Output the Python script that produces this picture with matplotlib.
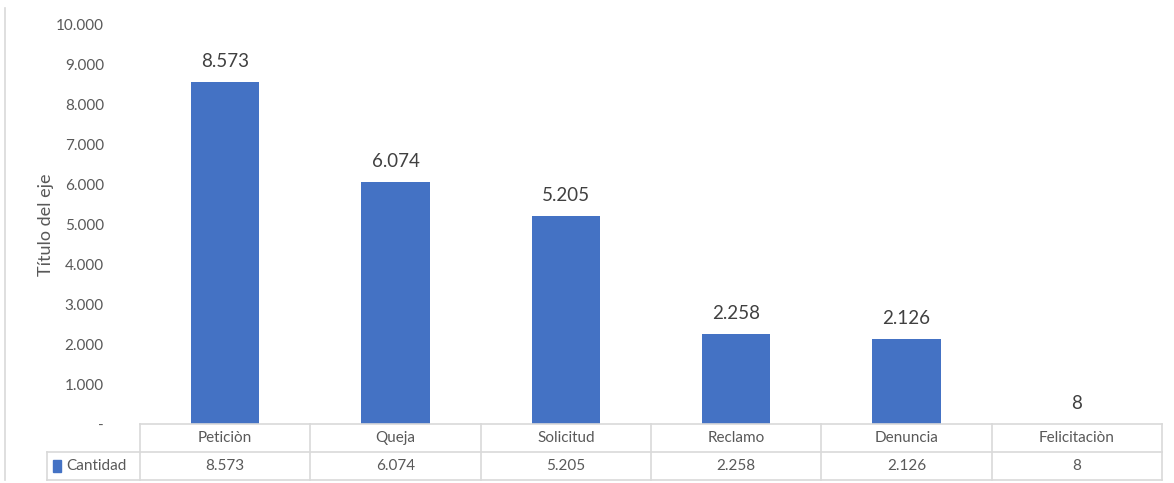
import matplotlib
matplotlib.use("Agg")
import matplotlib.pyplot as plt
from matplotlib.patches import Rectangle

categorias = ["Peticiòn", "Queja", "Solicitud", "Reclamo", "Denuncia", "Felicitaciòn"]
cantidad = [8573, 6074, 5205, 2258, 2126, 8]
serie = "Cantidad"
yticks = [0, 1000, 2000, 3000, 4000, 5000, 6000, 7000, 8000, 9000, 10000]


def fmt(v):
    # separador de miles con punto, cero como guion
    if v == 0:
        return "-"
    return f"{v:,}".replace(",", ".")


plt.rcParams["font.family"] = ["Lato", "DejaVu Sans"]
azul = "#4472C4"
gris_txt = "#595959"
gris_lin = "#D9D9D9"

fig = plt.figure(figsize=(11.74, 4.83), dpi=100)
ax = fig.add_axes([140 / 1174, 1 - 424 / 483, 1022 / 1174, 399 / 483])

x = list(range(len(categorias)))
ax.bar(x, cantidad, width=0.4, color=azul, zorder=2)
for xi, v in zip(x, cantidad):
    ax.text(xi, v + 300, fmt(v), ha="center", va="bottom", fontsize=13.5, color="#404040")

ax.set_xlim(-0.5, len(categorias) - 0.5)
ax.set_ylim(0, 10000)
ax.set_yticks(yticks)
ax.set_yticklabels([fmt(t) for t in yticks], fontsize=11, color=gris_txt)
ax.set_xticks([])
ax.tick_params(axis="y", length=0, pad=26)
for s in ax.spines.values():
    s.set_visible(False)
ax.set_ylabel("Título del eje", fontsize=13, color=gris_txt)
ax.yaxis.set_label_coords(-86 / 1022, 0.5)

# tabla de datos debajo del eje
tr = ax.get_xaxis_transform()
h = 28 / 399
left = -0.5 - 93 / 170
n = len(categorias)
ax.plot([-0.5, n - 0.5], [0, 0], color=gris_lin, lw=1.2, transform=tr, clip_on=False)
ax.plot([-0.5, n - 0.5], [-h, -h], color=gris_lin, lw=1.2, transform=tr, clip_on=False)
ax.plot([left, -0.5], [-h, -h], color=gris_lin, lw=1.2, transform=tr, clip_on=False)
ax.plot([left, n - 0.5], [-2 * h, -2 * h], color=gris_lin, lw=1.2, transform=tr, clip_on=False)
for b in range(n + 1):
    ax.plot([b - 0.5, b - 0.5], [0, -2 * h], color=gris_lin, lw=1.2, transform=tr, clip_on=False)
ax.plot([left, left], [-h, -2 * h], color=gris_lin, lw=1.2, transform=tr, clip_on=False)

for xi, c, v in zip(x, categorias, cantidad):
    ax.text(xi, -h / 2, c, ha="center", va="center", fontsize=11, color=gris_txt, transform=tr)
    ax.text(xi, -1.5 * h, fmt(v), ha="center", va="center", fontsize=11, color=gris_txt, transform=tr)

ax.add_patch(Rectangle((left + 6 / 170, -1.5 * h - 0.014), 8 / 170, 0.028, transform=tr,
                       color=azul, clip_on=False))
ax.text(left + 19 / 170, -1.5 * h, serie, ha="left", va="center", fontsize=11,
        color=gris_txt, transform=tr)

# borde izquierdo del grafico
fig.add_artist(plt.Line2D([5 / 1174, 5 / 1174], [1 - 480 / 483, 1 - 8 / 483],
                          color=gris_lin, lw=1.2, transform=fig.transFigure))

fig.savefig("out.png", dpi=100)
